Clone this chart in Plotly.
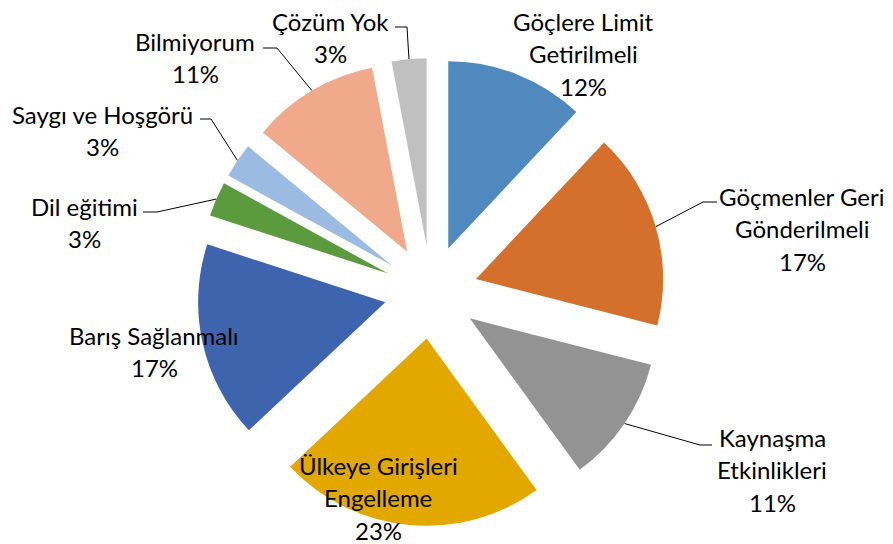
import math

import plotly.graph_objects as go

# data (clockwise from 12 o'clock)
names = [
    "Göçlere Limit<br>Getirilmeli",
    "Göçmenler Geri<br>Gönderilmeli",
    "Kaynaşma<br>Etkinlikleri",
    "Ülkeye Girişleri<br>Engelleme",
    "Barış Sağlanmalı",
    "Dil eğitimi",
    "Saygı ve Hoşgörü",
    "Bilmiyorum",
    "Çözüm Yok",
]
percents = [12, 17, 11, 23, 17, 3, 3, 11, 3]
colors = [
    "#4F89BE", "#D46F2C", "#939393", "#E2A800", "#3E64AD",
    "#5C9B3D", "#9CBBE3", "#F0A98A", "#C0C0C0",
]

# the page body has an 8px margin, so the figure is drawn from (8, 8)
PAD = 8
W, H = 893 - PAD, 544 - PAD
PULL = 0.25
CX, CY = 431, 292  # pie centre, screen pixels
EXTENT = 234  # radius * (1 + pull)

# label placement: centre x, first line y, and the leader (elbow, end) if any
label_pos = [
    (583, 21, None),
    (802, 196, ((703, 202), (717, 202))),
    (772, 437, ((700, 445), (712, 445))),
    (378, 465, None),
    (154, 335, None),
    (84, 206, ((157, 212), (143, 212))),
    (102, 114, ((211, 119), (200, 119))),
    (195, 41, ((277, 48), (263, 48))),
    (330, 21, ((407, 27), (395, 27))),
]
LINE_GAP = 32.5
FONT = dict(family="Lato", size=24, color="#000000")


def mid_angles(values):
    """Angle (radians, clockwise from top) of the middle of each slice."""
    total = float(sum(values))
    out, acc = [], 0.0
    for v in values:
        out.append(2 * math.pi * (acc + v / 2.0) / total)
        acc += v
    return out


fig = go.Figure()

cx, cy = CX - PAD, CY - PAD
fig.add_trace(
    go.Pie(
        labels=[n.replace("<br>", " ") for n in names],
        values=percents,
        sort=False,
        direction="clockwise",
        rotation=0,
        pull=[PULL] * len(percents),
        marker=dict(colors=colors, line=dict(width=0)),
        textinfo="none",
        hoverinfo="skip",
        showlegend=False,
        domain=dict(
            x=[(cx - 300) / W, (cx + 300) / W],
            y=[(H - cy - EXTENT) / H, (H - cy + EXTENT) / H],
        ),
    )
)

annotations = []
for name, pct, ang, pos in zip(names, percents, mid_angles(percents), label_pos):
    x, y0, leader = pos
    lines = name.split("<br>") + [f"{pct}%"]
    for i, line in enumerate(lines):
        annotations.append(
            dict(
                x=x, y=y0 + i * LINE_GAP, xref="x", yref="y",
                text=line, showarrow=False, font=FONT,
                xanchor="center", yanchor="middle", borderpad=0,
            )
        )
    if leader:
        # point on the arc at the middle of the pulled slice
        ex = CX + EXTENT * math.sin(ang)
        ey = CY - EXTENT * math.cos(ang)
        (bx, by), (tx, ty) = leader
        fig.add_trace(
            go.Scatter(
                x=[ex, bx, tx], y=[ey, by, ty], mode="lines",
                line=dict(color="#000000", width=1),
                hoverinfo="skip", showlegend=False,
            )
        )

fig.update_layout(
    width=W,
    height=H,
    margin=dict(l=0, r=0, t=0, b=0),
    paper_bgcolor="white",
    plot_bgcolor="rgba(0,0,0,0)",
    xaxis=dict(range=[PAD, PAD + W], visible=False, fixedrange=True),
    yaxis=dict(range=[PAD + H, PAD], visible=False, fixedrange=True),
    annotations=annotations,
)

fig.write_html("out.html")
